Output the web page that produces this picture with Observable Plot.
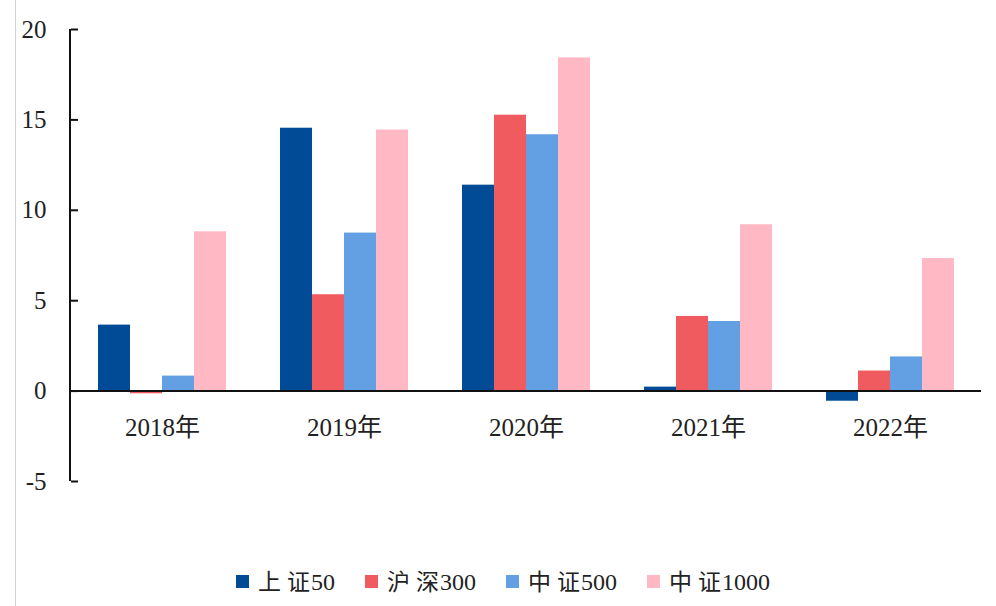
<!DOCTYPE html>
<html>
<head>
<meta charset="utf-8">
<script src="https://cdn.jsdelivr.net/npm/d3@7"></script>
<script src="https://cdn.jsdelivr.net/npm/@observablehq/plot@0.6"></script>
<style>
  html, body { margin: 0; padding: 0; background: #fff; }
  body { width: 996px; height: 606px; position: relative; overflow: hidden;
         font-family: "Liberation Serif", "Noto Sans CJK SC", serif; }
  #border { position: absolute; left: 15px; top: 0; width: 1px; height: 606px; background: #d0d0d0; }
  #legend { position: absolute; left: 236px; top: 566px; height: 30px; display: flex; align-items: center;
            gap: 30px; font-size: 24px; color: #222; }
  .item { display: flex; align-items: center; gap: 9px; line-height: 30px; }
  .sw { width: 13px; height: 13px; display: inline-block; }
  .cjk { font-family: "Noto Sans CJK SC", sans-serif; font-size: 23px; }
  .cjk.sp { margin-right: 6px; }
  .num { margin-left: 1px; }
</style>
</head>
<body>
<div id="border"></div>
<div id="chart"></div>
<div id="legend"></div>
<script>
const years = ["2018年", "2019年", "2020年", "2021年", "2022年"];
const series = ["上证50", "沪深300", "中证500", "中证1000"];
const colors = ["#004a96", "#ef5b5e", "#63a0e3", "#ffb8c4"];
const sz50   = [3.65, 14.54, 11.39, 0.22, -0.56];
const hs300  = [-0.15, 5.33, 15.26, 4.13, 1.11];
const zz500  = [0.83, 8.74, 14.18, 3.85, 1.89];
const zz1000 = [8.81, 14.44, 18.43, 9.2, 7.33];
const yTicks = [-5, 0, 5, 10, 15, 20];

const valuesBySeries = [sz50, hs300, zz500, zz1000];
const data = [];
years.forEach((yr, i) => series.forEach((s, j) => data.push({year: yr, series: s, value: valuesBySeries[j][i]})));

const plot = Plot.plot({
  width: 996,
  height: 545,
  marginLeft: 70,
  marginRight: 14,
  marginTop: 29,
  marginBottom: 64,
  style: {fontFamily: '"Liberation Serif", "Noto Sans CJK SC", serif', fontSize: "25px", color: "#222", background: "transparent"},
  fx: {domain: years, padding: 0, axis: null},
  x: {domain: series, paddingInner: 0, paddingOuter: 0.764, axis: null},
  y: {domain: [-5, 20], ticks: yTicks},
  color: {domain: series, range: colors},
  marks: [
    Plot.barY(data, {fx: "year", x: "series", y: "value", fill: "series"}),
    Plot.ruleY([0], {stroke: "#111", strokeWidth: 2}),
    Plot.axisY({ticks: yTicks, tickSize: 0, tickPadding: 25, label: null, fontSize: 25, tickFormat: d => String(d)}),
    Plot.axisY({ticks: yTicks, tickSize: -7, text: null, label: null, stroke: "#111", strokeWidth: 2}),
    Plot.text(years, {fx: d => d, y: 0, text: d => d, dy: 37, fontSize: 25, fill: "#222"})
  ]
});

const ys = plot.scale("y");
d3.select(plot).append("line")
  .attr("x1", 70).attr("x2", 70)
  .attr("y1", ys.apply(20)).attr("y2", ys.apply(-5))
  .attr("stroke", "#111").attr("stroke-width", 2);

document.getElementById("chart").appendChild(plot);

const legend = d3.select("#legend");
series.forEach((s, i) => {
  const it = legend.append("div").attr("class", "item");
  it.append("span").attr("class", "sw").style("background", colors[i]);
  const m = s.match(/^(\D+)(\d+)$/);
  const lab = it.append("span");
  const chars = Array.from(m[1]);
  chars.forEach((c, k) => lab.append("span").attr("class", k < chars.length - 1 ? "cjk sp" : "cjk").text(c));
  lab.append("span").attr("class", "num").text(m[2]);
});
</script>
</body>
</html>
